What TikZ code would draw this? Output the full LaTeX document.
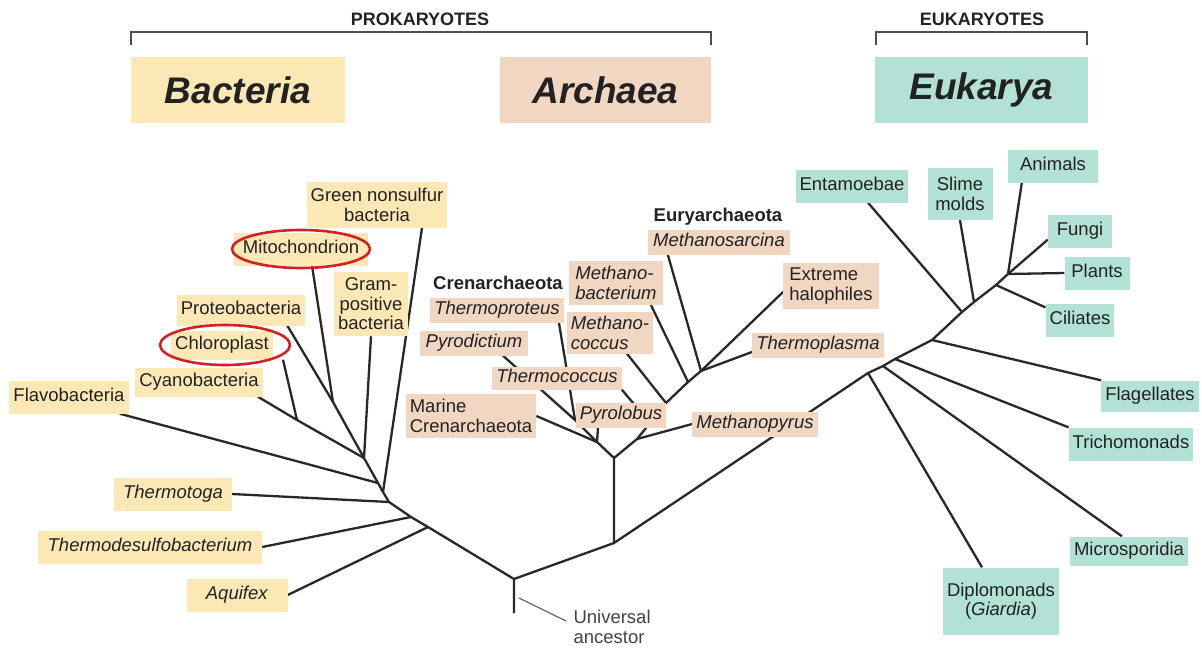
\documentclass[tikz,border=0pt]{standalone}
\usepackage{fontspec}
\setmainfont{Liberation Sans}
\definecolor{bacfill}{RGB}{251,232,181}
\definecolor{arcfill}{RGB}{241,214,193}
\definecolor{eukfill}{RGB}{178,225,213}
\definecolor{ink}{RGB}{34,34,34}
\definecolor{stemgray}{RGB}{40,40,40}
\definecolor{ringred}{RGB}{210,32,38}
\pgfdeclarelayer{lines}
\pgfsetlayers{lines,main}
\begin{document}
\begin{tikzpicture}[x=1pt,y=-1pt,
  every node/.style={font=\fontsize{18.5}{19.5}\selectfont, text=ink},
  tag/.style={inner xsep=4pt, inner ysep=8pt, text height=13pt, text depth=4pt},
  bac/.style={tag, fill=bacfill},
  arc/.style={tag, fill=arcfill, inner ysep=4pt},
  euk/.style={tag, fill=eukfill},
  two/.style={text height={}, text depth={}, inner ysep=5pt},
  bold/.style={font=\fontsize{18.5}{19.5}\selectfont\bfseries},
  realm/.style={minimum height=66pt, font=\fontsize{37}{40}\selectfont\bfseries\itshape},
  branch/.style={draw=stemgray, line width=2.3pt, line join=round},
  ring/.style={draw=ringred, line width=2.6pt},
  bracket/.style={draw=ink!80, line width=1.4pt}]
\useasboundingbox (0,0) rectangle (1202,648);

\node[font=\fontsize{18}{19}\selectfont\bfseries] (prok) at (420,19) {PROKARYOTES};
\node[font=\fontsize{18}{19}\selectfont\bfseries] (euk) at (982,19) {EUKARYOTES};
\draw[bracket] (131,45) |- (711,32) -- (711,45);
\draw[bracket] (876,45) |- (1087,32) -- (1087,45);
\node[realm, fill=bacfill, minimum width=214pt] (bacteria) at (238,90) {Bacteria};
\node[realm, fill=arcfill, minimum width=211pt] (archaea) at (605.5,90) {Archaea};
\node[realm, fill=eukfill, minimum width=213pt] (eukarya) at (981.5,90) {Eukarya};

\node[bac] (flavo) at (69,397) {Flavobacteria};
\node[bac, inner ysep=6pt] (cyano) at (199,382) {Cyanobacteria};
\node[bac, inner ysep=6pt] (chloro) at (222,345) {Chloroplast};
\node[bac, inner ysep=7pt] (proteo) at (241,310) {Proteobacteria};
\node[bac, minimum width=134pt] (mito) at (301,249) {Mitochondrion};
\node[bac, two, align=center, inner ysep=6pt] (gram) at (371,304) {Gram-\\positive\\bacteria};
\node[bac, two, align=center, inner ysep=6pt] (green) at (377,205) {Green nonsulfur\\bacteria};
\node[bac, minimum width=118pt] (thermotoga) at (173,494) {\textit{Thermotoga}};
\node[bac, minimum width=224pt] (thermodesulfo) at (150,547) {\textit{Thermodesulfobacterium}};
\node[bac, minimum width=101pt] (aquifex) at (237,595) {\textit{Aquifex}};

\node[bold] (eury) at (718,217) {Euryarchaeota};
\node[arc, minimum width=142pt] (sarcina) at (719,242) {\textit{Methanosarcina}};
\node[arc, two, align=left, inner xsep=6pt] (mbact) at (616,283) {\textit{Methano-}\\\textit{bacterium}};
\node[bold] (cren) at (498,283) {Crenarchaeota};
\node[arc] (tproteus) at (497,310) {\textit{Thermoproteus}};
\node[arc, two, align=left, inner xsep=6pt] (halo) at (831,286) {Extreme\\halophiles};
\node[arc, two, align=left, inner ysep=4pt] (mcoccus) at (610,333) {\textit{Methano-}\\\textit{coccus}};
\node[arc, inner xsep=6pt] (pyrodictium) at (474,343) {\textit{Pyrodictium}};
\node[arc] (tplasma) at (818,345) {\textit{Thermoplasma}};
\node[arc, inner ysep=3pt] (tcoccus) at (557,378) {\textit{Thermococcus}};
\node[arc, two, align=left] (marine) at (471,416) {Marine\\Crenarchaeota};
\node[arc] (pyrolobus) at (621,415) {\textit{Pyrolobus}};
\node[arc] (mpyrus) at (755,424) {\textit{Methanopyrus}};

\node[euk, minimum width=111pt] (entam) at (852,186) {Entamoebae};
\node[euk, two, align=center, minimum width=65pt, minimum height=52pt] (slime) at (960,194) {Slime\\molds};
\node[euk, minimum width=90pt] (animals) at (1053,166) {Animals};
\node[euk, minimum width=64pt] (fungi) at (1080,231) {Fungi};
\node[euk, minimum width=65pt] (plants) at (1097,273) {Plants};
\node[euk, minimum width=64pt] (ciliates) at (1080,320) {Ciliates};
\node[euk, inner ysep=7pt] (flag) at (1150,396) {Flagellates};
\node[euk] (tricho) at (1131,444) {Trichomonads};
\node[euk, inner ysep=6pt] (micro) at (1129,551) {Microsporidia};
\node[euk, two, align=center, minimum width=116pt, minimum height=67pt] (diplo) at (1001,601) {Diplomonads\\(\textit{Giardia})};

\node[align=left, anchor=west, text=ink!85] (univ) at (570,627) {Universal\\ancestor};

\coordinate (stem) at (514,613);
\coordinate (root) at (514,579);
\coordinate (b1) at (428,527);
\coordinate (b2) at (411,517);
\coordinate (b3) at (389,502);
\coordinate (bg) at (383,492);
\coordinate (b4) at (378,483);
\coordinate (b5) at (364,458);
\coordinate (b6) at (297,420);
\coordinate (b7) at (333,402);
\coordinate (jA) at (614,543);
\coordinate (cA) at (614,458);
\coordinate (c1) at (597,442);
\coordinate (c2) at (575,420);
\coordinate (e1) at (637,439);
\coordinate (e2) at (650,423);
\coordinate (e3) at (666,403);
\coordinate (e4) at (688,382);
\coordinate (e5) at (701,371);
\coordinate (k1) at (868,373);
\coordinate (k2) at (883,366);
\coordinate (k3) at (895,359);
\coordinate (k4) at (932,340);
\coordinate (k5) at (962,312);
\coordinate (k6) at (974,302);
\coordinate (k7) at (996,285);
\coordinate (k8) at (1008,274);
\coordinate (ptr) at (519,598);

\begin{pgfonlayer}{lines}
\draw[branch] (stem) -- (root) -- (b1) -- (b2) -- (b3) -- (bg) -- (b4) -- (b5);
\draw[branch] (root) -- (jA) -- (k1) -- (k2) -- (k3) -- (k4) -- (k5) -- (k6) -- (k7) -- (k8);
\draw[branch] (jA) -- (cA) -- (c1) -- (c2);
\draw[branch] (cA) -- (e1) -- (e2) -- (e3) -- (e4) -- (e5);
\draw[branch] (b5) -- (b6);
\draw[branch] (b5) -- (b7);
\foreach \a/\b in {aquifex.east/b1, thermodesulfo.east/b2, thermotoga.east/b3, gram.south/b5,
  marine.east/c1, mpyrus.west/e1, tcoccus.south east/e2, halo.187/e5, tplasma.186/e5,
  tricho.north west/k3, flag.north west/k4, slime.south/k6, ciliates.160/k7,
  fungi.195/k8, plants.west/k8}
  {\draw[branch] (\a) -- (\b);}
\draw[branch] ([xshift=45pt]green.south) -- (bg);
\draw[branch] ([xshift=-9pt]flavo.south east) -- (b4);
\draw[branch] ([xshift=-5pt]cyano.south east) -- (b6);
\draw[branch] ([xshift=10pt]chloro.south east) -- (b6);
\draw[branch] ([xshift=-18pt]proteo.south east) -- (b7);
\draw[branch] ([xshift=11pt]mito.south) -- (b7);
\draw[branch] ([xshift=-23pt]pyrolobus.south) -- (c1);
\draw[branch] ([xshift=29pt]pyrodictium.south) -- (c2);
\draw[branch] ([xshift=-5pt]tproteus.south east) -- (c2);
\draw[branch] ([xshift=17pt]mcoccus.south) -- (e3);
\draw[branch] ([xshift=-12pt]mbact.south east) -- (e4);
\draw[branch] ([xshift=20pt]sarcina.south west) -- (e5);
\draw[branch] ([xshift=-19pt]diplo.north) -- (k1);
\draw[branch] ([xshift=-7pt]micro.north) -- (k2);
\draw[branch] ([xshift=16pt]entam.south) -- (k5);
\draw[branch] ([xshift=14pt]animals.south west) -- (k8);
\end{pgfonlayer}
\draw[draw=ink!70, line width=1.2pt] (ptr) -- ([xshift=-4pt,yshift=6pt]univ.west);

\draw[ring] (mito.center) ellipse [x radius=69pt, y radius=19pt];
\draw[ring] ([xshift=3pt]chloro.center) ellipse [x radius=65pt, y radius=20pt];
\end{tikzpicture}
\end{document}
